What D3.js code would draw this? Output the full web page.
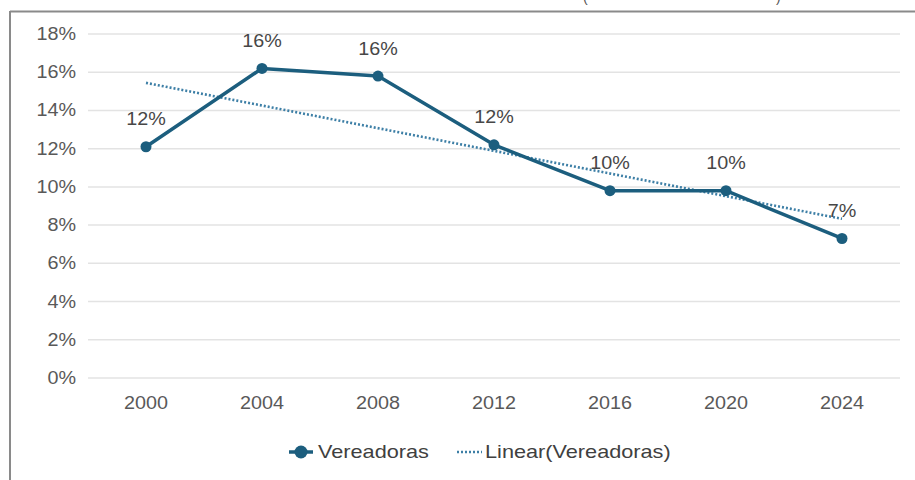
<!DOCTYPE html>
<html>
<head>
<meta charset="utf-8">
<script src="https://cdn.jsdelivr.net/npm/d3@7"></script>
<style>
  body { margin: 0; background: #fff; }
  text { font-family: Arial, "Liberation Sans", sans-serif; }
</style>
</head>
<body>
<div id="chart"></div>
<script>
// data
const years = ["2000", "2004", "2008", "2012", "2016", "2020", "2024"];
const vereadoras = [12.1, 16.2, 15.8, 12.2, 9.8, 9.8, 7.3];
const yTicks = [0, 2, 4, 6, 8, 10, 12, 14, 16, 18];
const seriesName = "Vereadoras";
const trendName = "Linear(Vereadoras)";

const width = 915, height = 480;
const margin = { top: 34, right: 15, bottom: 102, left: 88 };
const fs = 17.5, sx = 1.13; // the source text is a bit stretched sideways

const svg = d3.select("#chart")
  .append("svg")
  .attr("width", width)
  .attr("height", height);

// put a stretched text at x,y
function label(g, x0, y0, str, anchor, color, k) {
  return g.append("text")
    .attr("transform", `translate(${x0},${y0}) scale(${k || sx},1)`)
    .attr("text-anchor", anchor)
    .attr("font-size", fs)
    .attr("fill", color)
    .text(str);
}

// frame (top and left border only visible)
svg.append("line")
  .attr("x1", 10).attr("x2", width).attr("y1", 11.5).attr("y2", 11.5)
  .attr("stroke", "#8a8a8a").attr("stroke-width", 2);
svg.append("line")
  .attr("x1", 10).attr("x2", 10).attr("y1", 11).attr("y2", height)
  .attr("stroke", "#8a8a8a").attr("stroke-width", 2);

// clipped title fragment above the frame
svg.append("text").attr("x", 583).attr("y", 2).attr("font-size", 14).attr("fill", "#555").text("(");
svg.append("text").attr("x", 776).attr("y", 2).attr("font-size", 14).attr("fill", "#555").text(")");

const x = d3.scalePoint()
  .domain(years)
  .range([margin.left, width - margin.right])
  .padding(0.5);

const y = d3.scaleLinear()
  .domain([0, 18])
  .range([378, 34]);

// gridlines
svg.append("g")
  .selectAll("line")
  .data(yTicks)
  .join("line")
  .attr("x1", margin.left)
  .attr("x2", 900)
  .attr("y1", d => y(d))
  .attr("y2", d => y(d))
  .attr("stroke", "#e3e3e3")
  .attr("stroke-width", 1.5);

// y axis labels
const yAxis = svg.append("g");
yTicks.forEach(t => label(yAxis, 76, y(t) + 6, t + "%", "end", "#595959"));

// x axis labels
const xAxis = svg.append("g");
years.forEach(yr => label(xAxis, x(yr), 409, yr, "middle", "#595959"));

// linear trend (least squares over index)
const n = vereadoras.length;
const mx = d3.mean(d3.range(n));
const my = d3.mean(vereadoras);
const slope = d3.sum(vereadoras, (v, i) => (i - mx) * (v - my)) / d3.sum(d3.range(n), i => (i - mx) * (i - mx));
const icpt = my - slope * mx;
const trend = [0, n - 1].map(i => ({ year: years[i], v: icpt + slope * i }));

const lineColor = "#1c5e7e";
const trendColor = "#3d7fa6";

svg.append("path")
  .datum(trend)
  .attr("fill", "none")
  .attr("stroke", trendColor)
  .attr("stroke-width", 2.6)
  .attr("stroke-dasharray", "2,2")
  .attr("d", d3.line().x(d => x(d.year)).y(d => y(d.v)));

const pts = years.map((yr, i) => ({ year: yr, v: vereadoras[i] }));

svg.append("path")
  .datum(pts)
  .attr("fill", "none")
  .attr("stroke", lineColor)
  .attr("stroke-width", 3.5)
  .attr("stroke-linejoin", "round")
  .attr("d", d3.line().x(d => x(d.year)).y(d => y(d.v)));

svg.append("g")
  .selectAll("circle")
  .data(pts)
  .join("circle")
  .attr("cx", d => x(d.year))
  .attr("cy", d => y(d.v))
  .attr("r", 5.5)
  .attr("fill", lineColor);

// data labels
const dl = svg.append("g");
pts.forEach(d => label(dl, x(d.year), y(d.v) - 21.5, Math.round(d.v) + "%", "middle", "#474747"));

// legend
const lg = svg.append("g").attr("transform", "translate(0,452)");
lg.append("line")
  .attr("x1", 289).attr("x2", 313).attr("y1", 0).attr("y2", 0)
  .attr("stroke", lineColor).attr("stroke-width", 3.5);
lg.append("circle").attr("cx", 301).attr("cy", 0).attr("r", 6.5).attr("fill", lineColor);
label(lg, 318, 6, seriesName, "start", "#404040", 1.24);
lg.append("line")
  .attr("x1", 457).attr("x2", 482).attr("y1", 0).attr("y2", 0)
  .attr("stroke", trendColor).attr("stroke-width", 2.6).attr("stroke-dasharray", "2,2");
label(lg, 485, 6, trendName, "start", "#404040", 1.24);
</script>
</body>
</html>
